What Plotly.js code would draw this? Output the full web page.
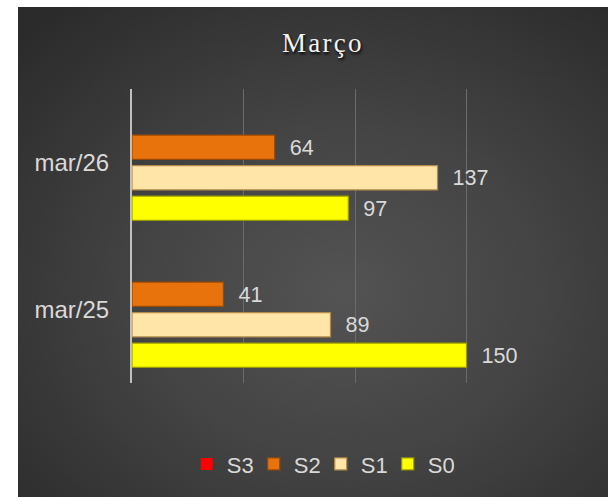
<!DOCTYPE html>
<html>
<head>
<meta charset="utf-8">
<script src="https://cdn.plot.ly/plotly-3.0.1.min.js"></script>
<style>
  html, body { margin: 0; padding: 0; background: #ffffff; width: 608px; height: 497px; overflow: hidden; }
  #chart {
    position: absolute; left: 18px; top: 7px; width: 590px; height: 490px;
    background: radial-gradient(ellipse 75% 75% at 55% 58%, #535353 0%, #444444 45%, #343434 80%, #2b2b2b 100%);
  }
</style>
</head>
<body>
<div id="chart"></div>
<script>
const categories = ["mar/25", "mar/26"];
const seriesNames = ["S0", "S1", "S2", "S3"];
const S0 = [150, 97];
const S1 = [89, 137];
const S2 = [41, 64];
const S3 = [0, 0];
const titleText = "Março";

const seriesValues = [S0, S1, S2, S3];
const fills = ["#ffff00", "#ffe6a8", "#e8730d", "#ff0000"];
const edges = ["#9a9a00", "#b38a4a", "#9a4a05", "#a00000"];
const edgeWidths = [1.2, 1.2, 1.2, 0];

const traces = seriesValues.map((vals, i) => ({
  type: "bar",
  orientation: "h",
  name: seriesNames[i],
  y: categories,
  x: vals,
  marker: { color: fills[i], line: { color: edges[i], width: edgeWidths[i] } },
  text: vals.map(v => (v > 0 ? "\u00a0\u00a0" + v : "")),
  texttemplate: "%{text}",
  textposition: "outside",
  textfont: { family: "Liberation Sans, Arial, sans-serif", size: 23, color: "#d9d9d9" },
  cliponaxis: false,
  hoverinfo: "skip"
}));

const layout = {
  width: 590,
  height: 490,
  paper_bgcolor: "rgba(0,0,0,0)",
  plot_bgcolor: "rgba(0,0,0,0)",
  margin: { l: 114, r: 30, t: 82, b: 114 },
  barmode: "group",
  bargap: 0.17,
  bargroupgap: 0.2,
  showlegend: true,
  title: {
    text: titleText.split("").join("\u200a"),
    font: { family: "Liberation Serif, DejaVu Serif, serif", size: 27, color: "#f2f2f2", shadow: "1px 2px 3px #000000" },
    x: 0.515, xref: "container", xanchor: "center",
    y: 0.927, yref: "container", yanchor: "middle"
  },
  xaxis: {
    range: [0, 200],
    dtick: 50,
    showgrid: true,
    gridcolor: "#6b6b6b",
    gridwidth: 1,
    zeroline: false,
    showticklabels: false,
    ticks: "",
    showline: false,
    fixedrange: true
  },
  yaxis: {
    type: "category",
    categoryorder: "array",
    categoryarray: categories,
    range: [-0.5, 1.5],
    showline: true,
    linecolor: "#bfbfbf",
    linewidth: 2,
    showgrid: false,
    zeroline: false,
    ticks: "",
    ticklabelstandoff: 16,
    tickfont: { family: "Liberation Sans, Arial, sans-serif", size: 24, color: "#d9d9d9" },
    fixedrange: true
  },
  legend: {
    orientation: "h",
    traceorder: "reversed",
    xref: "container", x: 0.286, xanchor: "left",
    yref: "container", y: 0.067, yanchor: "middle",
    entrywidth: 22,
    font: { family: "Liberation Sans, Arial, sans-serif", size: 22, color: "#d9d9d9" },
    bgcolor: "rgba(0,0,0,0)"
  }
};

Plotly.newPlot("chart", traces, layout, { staticPlot: true, displayModeBar: false });
</script>
</body>
</html>
